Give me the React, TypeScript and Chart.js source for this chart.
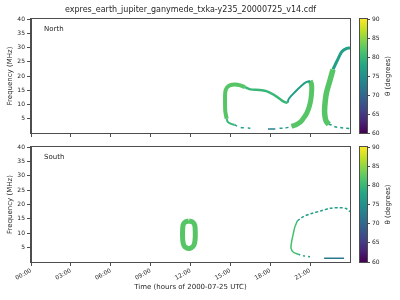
import React, { useEffect, useRef } from 'react';
import Chart from 'chart.js/auto';

// ---------------- data ----------------
const figureTitle = 'expres_earth_jupiter_ganymede_txka-y235_20000725_v14.cdf';
const xAxisTitle = 'Time (hours of 2000-07-25 UTC)';
const yAxisTitle = 'Frequency (MHz)';
const colorbarTitle = 'θ (degrees)';
const timeTickHours = [0, 3, 6, 9, 12, 15, 18, 21];
const timeTickLabels = ['00:00', '03:00', '06:00', '09:00', '12:00', '15:00', '18:00', '21:00'];
const freqTicks = [5, 10, 15, 20, 25, 30, 35, 40];
const thetaTicks = [60, 65, 70, 75, 80, 85, 90];

// North hemisphere curves: time (h), frequency (MHz), theta (deg)
const nLoopLeftT = [14.72, 14.62, 14.6, 14.62, 14.75, 15.0, 15.35, 15.75, 16.1];
const nLoopLeftF = [5.0, 7.5, 11.0, 14.5, 16.0, 16.8, 17.0, 16.7, 16.1];
const nLoopLeftTheta = 82;

const nLoopMidT = [16.1, 16.5, 17.2, 17.7, 18.2, 18.7, 19.1, 19.3];
const nLoopMidF = [16.1, 15.3, 15.1, 14.7, 13.6, 12.0, 10.8, 10.6];
const nLoopMidTheta = 80;

const nLoopRiseT = [19.3, 19.4, 19.86, 20.37, 20.74, 21.0];
const nLoopRiseF = [10.6, 12.0, 14.4, 16.7, 17.9, 18.3];
const nLoopRiseTheta = 77;

const nLoopFallT = [21.0, 21.1, 21.12, 21.05, 20.92, 20.74, 20.5, 20.3, 19.95, 19.6];
const nLoopFallF = [18.3, 17.2, 15.0, 11.6, 9.0, 6.9, 5.2, 4.0, 2.9, 2.3];
const nLoopFallTheta = 82;

const nLoopFootT = [14.72, 14.8, 15.05, 15.3];
const nLoopFootF = [5.0, 3.9, 3.2, 2.9];
const nLoopFootTheta = 80;

const nLoopBaseT = [15.3, 15.73, 16.1, 16.5];
const nLoopBaseF = [2.9, 2.0, 1.8, 1.7];
const nLoopBaseTheta = 77;

const nLoopBarT = [17.83, 18.38];
const nLoopBarF = [1.4, 1.4];
const nLoopBarTheta = 73;

const nLoopBase2T = [18.7, 19.11, 19.49, 19.6];
const nLoopBase2F = [1.65, 1.75, 2.1, 2.3];
const nLoopBase2Theta = 77;

const nArcLowT = [22.4, 22.2, 22.1, 22.1, 22.22, 22.5, 22.72];
const nArcLowF = [3.0, 4.2, 6.5, 9.2, 13.9, 18.6, 22.3];
const nArcLowTheta = 82;

const nArcHighT = [22.72, 23.06, 23.38, 23.75, 24.0];
const nArcHighF = [22.3, 25.6, 28.5, 29.7, 29.8];
const nArcHighTheta = 77;

const nArcTailT = [22.4, 22.6, 22.87, 23.25, 23.75, 24.0];
const nArcTailF = [3.0, 2.8, 2.2, 1.9, 1.65, 1.6];
const nArcTailTheta = 77;

// South hemisphere curves
const sRingT = [11.88, 12.15, 12.32, 12.36, 12.34, 12.25, 12.05, 11.88, 11.7, 11.5, 11.42, 11.4, 11.44, 11.6, 11.88];
const sRingF = [14.26, 13.9, 12.8, 10.0, 7.5, 5.8, 4.9, 4.7, 4.9, 5.8, 7.5, 10.0, 12.8, 13.9, 14.26];
const sRingTheta = 82;

const sArcSideT = [20.04, 19.86, 19.74, 19.61, 19.56, 19.74, 20.11];
const sArcSideF = [14.3, 12.3, 10.0, 7.1, 4.8, 3.4, 2.7];
const sArcSideTheta = 81;

const sArcTopT = [20.04, 20.49, 21.12, 21.75, 22.5, 23.25, 23.7, 24.0];
const sArcTopF = [14.3, 15.8, 16.9, 17.7, 18.7, 18.9, 18.6, 17.5];
const sArcTopTheta = 77;

const sArcTailT = [20.11, 20.49, 21.0];
const sArcTailF = [2.7, 2.2, 1.85];
const sArcTailTheta = 77;

const sBarT = [22.05, 23.55];
const sBarF = [1.3, 1.3];
const sBarTheta = 72;

// ---------------- style ----------------
const FONT = 'DejaVu Sans';
const TEXT = '#262626';
const AXIS = '#4d4d4d';
const VIRIDIS = ['#440154', '#482475', '#414487', '#355f8d', '#2a788e', '#21918c', '#22a884', '#44bf70', '#7ad151', '#bddf26', '#fde725'];
const T_MIN = 60;
const T_MAX = 90;

function hexToRgb(h: string) {
  return [parseInt(h.slice(1, 3), 16), parseInt(h.slice(3, 5), 16), parseInt(h.slice(5, 7), 16)];
}
function viridis(theta: number) {
  const p = Math.max(0, Math.min(1, (theta - T_MIN) / (T_MAX - T_MIN))) * 10;
  const i = Math.min(9, Math.floor(p));
  const f = p - i;
  const a = hexToRgb(VIRIDIS[i]);
  const b = hexToRgb(VIRIDIS[i + 1]);
  const c = a.map((v, k) => Math.round(v + (b[k] - v) * f));
  return `rgb(${c[0]},${c[1]},${c[2]})`;
}

function curve(t: number[], f: number[], theta: number, width: number, dash: number[] = []) {
  return {
    type: 'line' as const,
    data: t.map((x, i) => ({ x, y: f[i] })),
    borderColor: viridis(theta),
    borderWidth: width,
    borderDash: dash,
    borderCapStyle: 'butt' as const,
    borderJoinStyle: 'round' as const,
    pointRadius: 0,
    fill: false,
    tension: 0.3,
  };
}

const northDatasets = () => [
  curve(nLoopFootT, nLoopFootF, nLoopFootTheta, 2),
  curve(nLoopBaseT, nLoopBaseF, nLoopBaseTheta, 1.5, [3, 4]),
  curve(nLoopBarT, nLoopBarF, nLoopBarTheta, 1.5),
  curve(nLoopBase2T, nLoopBase2F, nLoopBase2Theta, 1.5, [3, 3]),
  curve(nLoopLeftT, nLoopLeftF, nLoopLeftTheta, 4),
  curve(nLoopMidT, nLoopMidF, nLoopMidTheta, 2.5),
  curve(nLoopRiseT, nLoopRiseF, nLoopRiseTheta, 2),
  curve(nLoopFallT, nLoopFallF, nLoopFallTheta, 5),
  curve(nArcTailT, nArcTailF, nArcTailTheta, 1.5, [3, 3]),
  curve(nArcLowT, nArcLowF, nArcLowTheta, 5.5),
  curve(nArcHighT, nArcHighF, nArcHighTheta, 3),
];

const southDatasets = () => [
  curve(sRingT, sRingF, sRingTheta, 5),
  curve(sArcSideT, sArcSideF, sArcSideTheta, 1.5),
  curve(sArcTopT, sArcTopF, sArcTopTheta, 1.5, [3, 2]),
  curve(sArcTailT, sArcTailF, sArcTailTheta, 1.5, [2, 3]),
  curve(sBarT, sBarF, sBarTheta, 1.5),
];

const framePlugin = {
  id: 'frame',
  afterDraw(chart: any, _a: any, opts: any) {
    const { ctx, chartArea: a } = chart;
    ctx.save();
    ctx.strokeStyle = AXIS;
    ctx.lineWidth = 1;
    ctx.strokeRect(Math.round(a.left) - 0.5, Math.round(a.top) - 0.5, Math.round(a.right - a.left) + 1, Math.round(a.bottom - a.top) + 1);
    ctx.fillStyle = TEXT;
    if (opts && opts.label) {
      ctx.font = `7px "${FONT}"`;
      ctx.textAlign = 'left';
      ctx.textBaseline = 'middle';
      ctx.fillText(opts.label, a.left + 13, a.top + 10);
    }
    if (opts && opts.title) {
      ctx.font = `8px "${FONT}"`;
      ctx.textAlign = 'center';
      ctx.textBaseline = 'middle';
      ctx.fillText(opts.title, (a.left + a.right) / 2, 10);
    }
    if (opts && opts.sideTitle) {
      ctx.font = `7px "${FONT}"`;
      ctx.textAlign = 'center';
      ctx.textBaseline = 'middle';
      ctx.translate(a.right + 21, (a.top + a.bottom) / 2);
      ctx.rotate(-Math.PI / 2);
      ctx.fillText(opts.sideTitle, 0, 0);
    }
    ctx.restore();
  },
};

function panelConfig(datasets: any[], showX: boolean, padTop: number, xHeight: number, label: string, title?: string) {
  return {
    type: 'scatter' as const,
    data: { datasets },
    plugins: [framePlugin],
    options: {
      animation: false as const,
      responsive: false,
      events: [],
      layout: { padding: { top: padTop, right: 6, left: 0, bottom: 0 } },
      plugins: {
        legend: { display: false },
        tooltip: { enabled: false },
        frame: { label, title },
      },
      scales: {
        x: {
          type: 'linear' as const,
          min: 0,
          max: 24,
          afterBuildTicks: (s: any) => {
            s.ticks = timeTickHours.map((v) => ({ value: v }));
          },
          afterFit: (s: any) => {
            s.height = xHeight;
          },
          ticks: {
            display: showX,
            autoSkip: false,
            maxRotation: 30,
            minRotation: 30,
            padding: 1,
            color: TEXT,
            font: { family: FONT, size: 6 },
            callback: (_v: any, i: number) => timeTickLabels[i],
          },
          grid: { display: true, drawOnChartArea: false, drawTicks: true, tickLength: 4, color: AXIS, tickColor: AXIS },
          border: { display: true, color: AXIS },
          title: {
            display: showX,
            text: xAxisTitle,
            color: TEXT,
            font: { family: FONT, size: 7 },
            padding: { top: 0, bottom: 9 },
          },
        },
        y: {
          type: 'linear' as const,
          min: 0,
          max: 40,
          afterBuildTicks: (s: any) => {
            s.ticks = freqTicks.map((v) => ({ value: v }));
          },
          afterFit: (s: any) => {
            s.width = 31;
          },
          ticks: { padding: 2, color: TEXT, font: { family: FONT, size: 6 } },
          grid: { display: true, drawOnChartArea: false, drawTicks: true, tickLength: 4, color: AXIS, tickColor: AXIS },
          border: { display: true, color: AXIS },
          title: {
            display: true,
            text: yAxisTitle,
            color: TEXT,
            font: { family: FONT, size: 7 },
            padding: { top: 6, bottom: 0 },
          },
        },
      },
    },
  };
}

function colorbarConfig(padTop: number, padBottom: number) {
  return {
    type: 'bar' as const,
    data: {
      labels: [''],
      datasets: [
        {
          data: [[T_MIN, T_MAX]] as any,
          borderWidth: 0,
          barPercentage: 1,
          categoryPercentage: 1,
          backgroundColor: (c: any) => {
            const a = c.chart.chartArea;
            if (!a) return 'transparent';
            const g = c.chart.ctx.createLinearGradient(0, a.bottom, 0, a.top);
            VIRIDIS.forEach((col, i) => g.addColorStop(i / 10, col));
            return g;
          },
        },
      ],
    },
    plugins: [framePlugin],
    options: {
      animation: false as const,
      responsive: false,
      events: [],
      layout: { padding: { top: padTop, bottom: padBottom, left: 4, right: 0 } },
      plugins: {
        legend: { display: false },
        tooltip: { enabled: false },
        frame: { sideTitle: colorbarTitle },
      },
      scales: {
        x: { display: false },
        y: {
          position: 'right' as const,
          min: T_MIN,
          max: T_MAX,
          afterBuildTicks: (s: any) => {
            s.ticks = thetaTicks.map((v) => ({ value: v }));
          },
          afterFit: (s: any) => {
            s.width = 33;
          },
          ticks: { padding: 2, color: TEXT, font: { family: FONT, size: 6 } },
          grid: { display: true, drawOnChartArea: false, drawTicks: true, tickLength: 3, color: AXIS, tickColor: AXIS },
          border: { display: false },
        },
      },
    },
  };
}

export default function App() {
  const nRef = useRef<HTMLCanvasElement>(null);
  const sRef = useRef<HTMLCanvasElement>(null);
  const cbnRef = useRef<HTMLCanvasElement>(null);
  const cbsRef = useRef<HTMLCanvasElement>(null);

  useEffect(() => {
    const charts = [
      new Chart(nRef.current!, panelConfig(northDatasets(), false, 19, 7, 'North', figureTitle) as any),
      new Chart(sRef.current!, panelConfig(southDatasets(), true, 7, 38, 'South') as any),
      new Chart(cbnRef.current!, colorbarConfig(19, 7) as any),
      new Chart(cbsRef.current!, colorbarConfig(7, 38) as any),
    ];
    return () => charts.forEach((c) => c.destroy());
  }, []);

  const abs = (left: number, top: number, w: number, h: number): React.CSSProperties => ({
    position: 'absolute',
    left,
    top,
    width: w,
    height: h,
  });

  return (
    <div style={{ position: 'fixed', left: 0, top: 0, width: 400, height: 300, background: '#fff', overflow: 'hidden' }}>
      <canvas ref={nRef} width={356} height={140} style={abs(0, 0, 356, 140)} />
      <canvas ref={sRef} width={356} height={160} style={abs(0, 140, 356, 160)} />
      <canvas ref={cbnRef} width={44} height={140} style={abs(356, 0, 44, 140)} />
      <canvas ref={cbsRef} width={44} height={160} style={abs(356, 140, 44, 160)} />
    </div>
  );
}
